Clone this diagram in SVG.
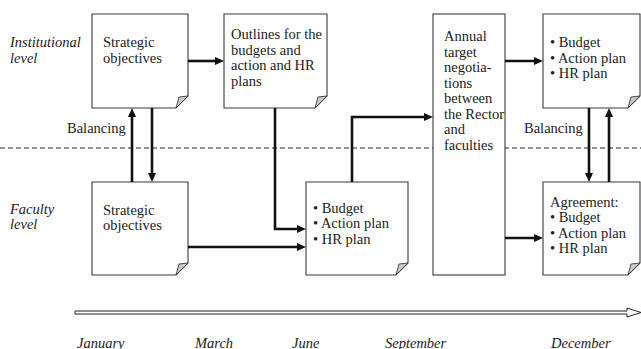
<svg xmlns="http://www.w3.org/2000/svg" width="641" height="349" viewBox="0 0 641 349">
<style>
.box{fill:#fff;stroke:#3a3a3a;stroke-width:1.1}
.fold{fill:#c8c8cc;stroke:#3a3a3a;stroke-width:0.9}
.t{font-family:"Liberation Serif","Times New Roman",serif;font-size:14.5px;fill:#222}
.i{font-style:italic}
.c{fill:none;stroke:#111;stroke-width:2.6;stroke-linejoin:miter}
</style>
<defs>
<marker id="ah" markerUnits="userSpaceOnUse" markerWidth="10" markerHeight="8" refX="4" refY="4" orient="auto">
<path d="M0,0 L9,4 L0,8 Z" fill="#111"/>
</marker>
</defs>
<rect width="641" height="349" fill="#fff"/>
<line x1="0" y1="148" x2="641" y2="148" stroke="#222" stroke-width="1.2" stroke-dasharray="5,3"/>
<g id="labels">
<text class="t i" x="10" y="47">Institutional</text>
<text class="t i" x="10" y="62.5">level</text>
<text class="t i" x="10" y="213.5">Faculty</text>
<text class="t i" x="10" y="229">level</text>
<text class="t" x="67" y="133">Balancing</text>
<text class="t" x="524" y="133">Balancing</text>
</g>
<g id="n1">
<path class="box" d="M92,14 H188 V96 L176,108 H92 Z"/>
<path class="fold" d="M188,96 L176,108 L179,97 Z"/>
<text class="t" x="103" y="47">Strategic</text>
<text class="t" x="103" y="62.5">objectives</text>
</g>
<g id="n2">
<path class="box" d="M224,14 H327 V96 L315,108 H224 Z"/>
<path class="fold" d="M327,96 L315,108 L318,97 Z"/>
<text class="t" x="231" y="39">Outlines for the</text>
<text class="t" x="231" y="54.5">budgets and</text>
<text class="t" x="231" y="70">action and HR</text>
<text class="t" x="231" y="85.5">plans</text>
</g>
<g id="n3">
<rect class="box" x="433" y="14" width="72" height="261"/>
<text class="t" x="444" y="41.3">Annual</text>
<text class="t" x="444" y="56.8">target</text>
<text class="t" x="444" y="72.3">negotia-</text>
<text class="t" x="444" y="87.8">tions</text>
<text class="t" x="444" y="103.3">between</text>
<text class="t" x="444" y="118.8">the Rector</text>
<text class="t" x="444" y="134.3">and</text>
<text class="t" x="444" y="149.8">faculties</text>
</g>
<g id="n4">
<path class="box" d="M543,14 H640 V96 L628,108 H543 Z"/>
<path class="fold" d="M640,96 L628,108 L631,97 Z"/>
<text class="t" x="550" y="47.3">• Budget</text>
<text class="t" x="550" y="62.8">• Action plan</text>
<text class="t" x="550" y="78.3">• HR plan</text>
</g>
<g id="n5">
<path class="box" d="M92,182 H188 V263 L176,275 H92 Z"/>
<path class="fold" d="M188,263 L176,275 L179,264 Z"/>
<text class="t" x="103" y="214.5">Strategic</text>
<text class="t" x="103" y="230">objectives</text>
</g>
<g id="n6">
<path class="box" d="M306,182 H408 V263 L396,275 H306 Z"/>
<path class="fold" d="M408,263 L396,275 L399,264 Z"/>
<text class="t" x="313" y="212.7">• Budget</text>
<text class="t" x="313" y="228.3">• Action plan</text>
<text class="t" x="313" y="244">• HR plan</text>
</g>
<g id="n7">
<path class="box" d="M543,182 H640 V263 L628,275 H543 Z"/>
<path class="fold" d="M640,263 L628,275 L631,264 Z"/>
<text class="t" x="550" y="206.5">Agreement:</text>
<text class="t" x="550" y="222">• Budget</text>
<text class="t" x="550" y="237.5">• Action plan</text>
<text class="t" x="550" y="253">• HR plan</text>
</g>
<g id="connectors">
<path class="c" d="M188,61 H219" marker-end="url(#ah)"/>
<path class="c" d="M132,182 V113" marker-end="url(#ah)"/>
<path class="c" d="M152,108 V177" marker-end="url(#ah)"/>
<path class="c" d="M275,108 V229 H301" marker-end="url(#ah)"/>
<path class="c" d="M188,247 H301" marker-end="url(#ah)"/>
<path class="c" d="M352,182 V117 H428" marker-end="url(#ah)"/>
<path class="c" d="M505,61 H538" marker-end="url(#ah)"/>
<path class="c" d="M505,238 H538" marker-end="url(#ah)"/>
<path class="c" d="M589,108 V177" marker-end="url(#ah)"/>
<path class="c" d="M609,182 V113" marker-end="url(#ah)"/>
</g>
<g id="timeline">
<path d="M75,311 H627 V308 L641,312.5 L627,317 V314 H75 Z" fill="#fff" stroke="#222" stroke-width="1"/>
<text class="t i" x="77" y="347.5">January</text>
<text class="t i" x="195" y="347.5">March</text>
<text class="t i" x="292" y="347.5">June</text>
<text class="t i" x="385" y="347.5">September</text>
<text class="t i" x="551" y="347.5">December</text>
</g>
</svg>
